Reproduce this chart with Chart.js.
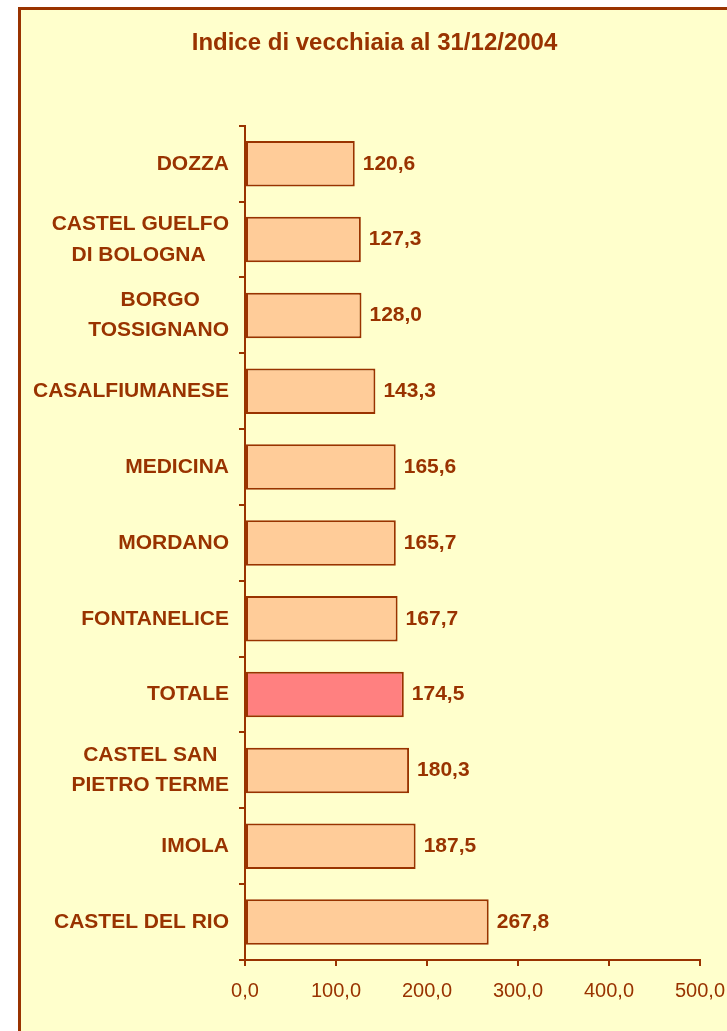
<!DOCTYPE html>
<html>
<head>
<meta charset="utf-8">
<title>Indice di vecchiaia al 31/12/2004</title>
<script src="https://cdn.jsdelivr.net/npm/chart.js@4"></script>
<style>
  html, body { margin: 0; padding: 0; background: #ffffff; overflow: hidden; }
  #frame {
    position: absolute; left: 18px; top: 7px; width: 760px; height: 1100px;
    border: 3px solid #993300; background: #ffffcc;
  }
  #wrap { position: absolute; left: 0; top: 0; width: 757px; height: 1031px; }
</style>
</head>
<body>
<div id="frame"></div>
<div id="wrap"><canvas id="vecchiaiaChart"></canvas></div>
<script>
// comuni, dall'alto verso il basso (righe brevi con spazi per centrarle)
const comuni = [
  "DOZZA",
  ["CASTEL GUELFO", "DI BOLOGNA    "],
  ["BORGO     ", "TOSSIGNANO"],
  "CASALFIUMANESE",
  "MEDICINA",
  "MORDANO",
  "FONTANELICE",
  "TOTALE",
  ["CASTEL SAN  ", "PIETRO TERME"],
  "IMOLA",
  "CASTEL DEL RIO"
];
const indice = [120.6, 127.3, 128.0, 143.3, 165.6, 165.7, 167.7, 174.5, 180.3, 187.5, 267.8];
const xTicks = [0, 100, 200, 300, 400, 500];

const scuro = "#993300";
const fontFam = "'Liberation Sans', Arial, sans-serif";
const fmt = v => v.toFixed(1).replace(".", ",");

const coloriBarre = comuni.map(c => (c === "TOTALE" ? "#ff8080" : "#ffcc99"));

const etichetteValori = {
  id: "etichetteValori",
  afterDatasetsDraw(chart) {
    const ctx = chart.ctx;
    const meta = chart.getDatasetMeta(0);
    ctx.save();
    ctx.font = "bold 21px " + fontFam;
    ctx.fillStyle = scuro;
    ctx.textAlign = "left";
    ctx.textBaseline = "middle";
    meta.data.forEach((bar, i) => {
      ctx.fillText(fmt(indice[i]), bar.x + 8, bar.y);
    });
    ctx.restore();
  }
};

if (document.getElementById("vecchiaiaChart")) {
  const vecchiaiaChart = new Chart(document.getElementById("vecchiaiaChart"), {
    type: "bar",
    data: {
      labels: comuni,
      datasets: [{
        data: indice,
        backgroundColor: coloriBarre,
        borderColor: scuro,
        borderWidth: 2,
        borderSkipped: false,
        barPercentage: 0.6,
        categoryPercentage: 1.0
      }]
    },
    options: {
      indexAxis: "y",
      responsive: true,
      maintainAspectRatio: false,
      animation: false,
      layout: { padding: { left: 19, right: 27, top: 0, bottom: 0 } },
      plugins: {
        legend: { display: false },
        tooltip: { enabled: false },
        title: {
          display: true,
          text: "Indice di vecchiaia al 31/12/2004",
          color: scuro,
          font: { family: fontFam, size: 24, weight: "bold" },
          padding: { top: 29, bottom: 68 }
        }
      },
      scales: {
        x: {
          min: 0,
          max: 500,
          afterBuildTicks: s => { s.ticks = xTicks.map(v => ({ value: v })); },
          afterFit: s => { s.height = 71; s.paddingRight = 57; },
          grid: { drawOnChartArea: false, drawTicks: true, tickLength: 6, color: scuro, lineWidth: 2 },
          border: { color: scuro, width: 2 },
          ticks: {
            color: scuro,
            padding: 13,
            font: { family: fontFam, size: 20 },
            callback: v => fmt(v)
          }
        },
        y: {
          afterFit: s => { s.width = 226; },
          grid: { offset: true, drawOnChartArea: false, drawTicks: true, tickLength: 6, color: scuro, lineWidth: 2 },
          border: { color: scuro, width: 2 },
          ticks: {
            color: scuro,
            padding: 10,
            font: { family: fontFam, size: 21, weight: "bold", lineHeight: 1.45 }
          }
        }
      }
    },
    plugins: [etichetteValori]
  });
}
</script>
</body>
</html>
